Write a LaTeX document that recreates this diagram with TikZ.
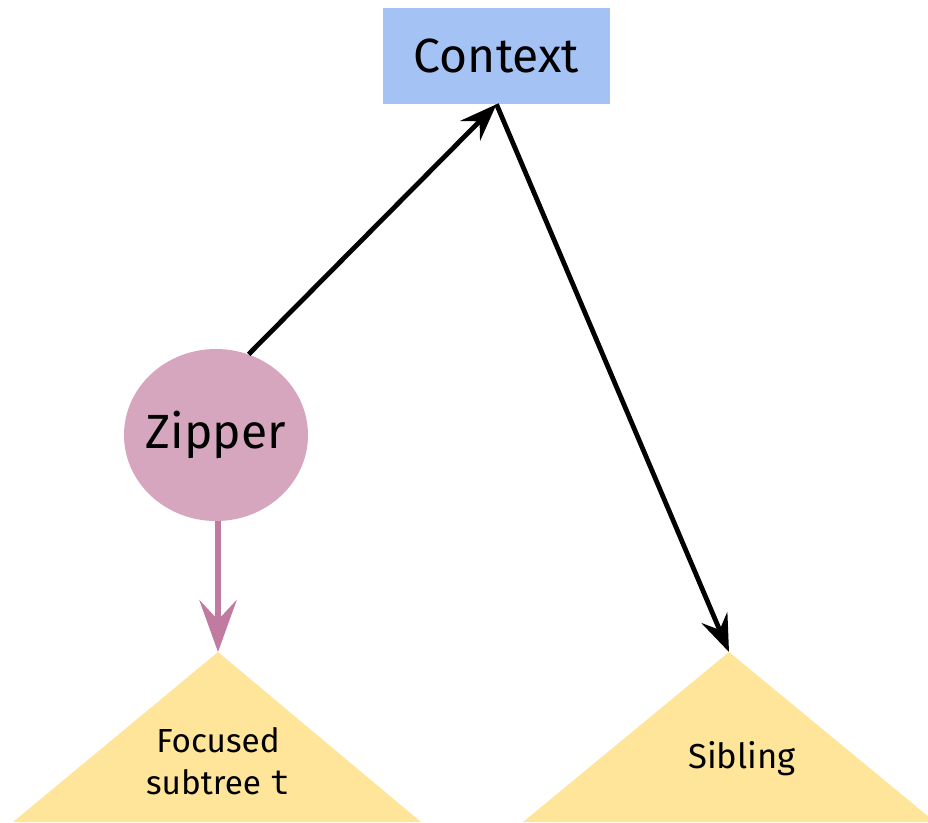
\documentclass[tikz,border=0pt]{standalone}
\usepackage{fontspec}
\setmainfont{Fira Sans}
\newfontfamily\codefont{DejaVu Sans Mono}
\usetikzlibrary{arrows.meta,shapes.geometric}

\definecolor{ctxblue}{HTML}{A4C2F4}
\definecolor{zipfill}{HTML}{D5A6BD}
\definecolor{zipline}{HTML}{C27BA0}
\definecolor{treefill}{HTML}{FFE599}

\tikzset{
  ctxbox/.style={fill=ctxblue, minimum width=170.25pt, minimum height=72pt,
    inner sep=0pt, font=\fontsize{36}{40}\selectfont},
  zipnode/.style={ellipse, fill=zipfill, minimum width=138pt, minimum height=129pt,
    inner xsep=-4pt, inner ysep=0pt, font=\fontsize{36}{40}\selectfont},
  treelabel/.style={align=center, inner sep=0pt, font=\fontsize{25}{31.5}\selectfont},
  treeshape/.style={fill=treefill},
  ptr/.style={line width=3.6pt, -{Stealth[length=28pt, width=21pt, inset=10pt]}},
  focusptr/.style={draw=zipline, line width=4.5pt,
    -{Stealth[length=39pt, width=28pt, inset=15pt, fill=zipline]}},
}

\begin{document}
\begin{tikzpicture}[x=0.75pt, y=-0.75pt]
  \useasboundingbox (0,0) rectangle (928,822);

  % subtrees
  \coordinate (fapex) at (218,652);
  \coordinate (sapex) at (729,652);
  \fill[treeshape] (fapex) -- (421,822) -- (13,822) -- cycle;
  \fill[treeshape] (sapex) -- (935,822) -- (523,822) -- cycle;
  \node[treelabel] (focused) at (218,761) {Focused\\subtree {\codefont t}};
  \node[treelabel, font=\fontsize{26}{31.5}\selectfont] (sibling) at (742,759) {Sibling};

  % context and zipper
  \node[ctxbox] (context) at (496.5,56) {Context};
  \node[zipnode] (zipper) at (216,435) {Zipper};

  % pointers
  \draw[ptr] (zipper.68) -- (context.south);
  \draw[ptr] (context.south) -- (sapex);
  \draw[focusptr] (zipper.south -| fapex) -- (fapex);
\end{tikzpicture}
\end{document}
